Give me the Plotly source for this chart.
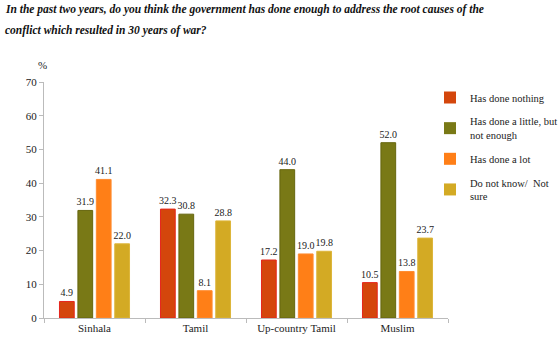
import plotly.graph_objects as go

categories = ["Sinhala", "Tamil", "Up-country Tamil", "Muslim"]
series_names = ["Has done nothing", "Has done a little, but<br>not enough", "Has done a lot", "Do not know/  Not<br>sure"]
nothing = [4.9, 32.3, 17.2, 10.5]
little = [31.9, 30.8, 44.0, 52.0]
a_lot = [41.1, 8.1, 19.0, 13.8]
dont_know = [22.0, 28.8, 19.8, 23.7]
y_ticks = [0, 10, 20, 30, 40, 50, 60, 70]

values = [nothing, little, a_lot, dont_know]
fills = ["#D4460C", "#797916", "#FF7F17", "#D3AA24"]
lines = ["#E5261C", "#66660E", "#FF8C30", "#DDB53A"]

serif = "Liberation Serif"
fig = go.Figure()
for i, (name, vals) in enumerate(zip(series_names, values)):
    fig.add_trace(go.Bar(
        x=categories, y=vals, name=name, showlegend=False,
        marker=dict(color=fills[i], line=dict(color=lines[i], width=1)),
        text=[f"{v:.1f}" for v in vals], textposition="outside",
        constraintext="none",
        textfont=dict(family=serif, size=10, color="#222"),
        cliponaxis=False,
    ))
for i, name in enumerate(series_names):
    fig.add_trace(go.Scatter(
        x=[None], y=[None], mode="markers", name=name, legendgroup=f"g{i}",
        marker=dict(symbol="square", size=6, color=fills[i]),
    ))

fig.update_layout(
    width=560, height=341,
    margin=dict(l=44, r=112, t=82, b=23, autoexpand=False),
    paper_bgcolor="white", plot_bgcolor="white",
    barmode="group", bargap=0.27, bargroupgap=0.2,
    font=dict(family=serif, size=11, color="#222"),
    showlegend=True,
    legend=dict(xref="container", yref="container", x=430/560, y=1 - 83/341,
                xanchor="left", yanchor="top",
                font=dict(family=serif, size=10.5, color="#222"),
                tracegroupgap=6, itemwidth=30, itemsizing="constant",
                bgcolor="rgba(0,0,0,0)"),
    xaxis=dict(showline=True, linecolor="#BBBBBB", linewidth=1, tickangle=0, automargin=False,
               ticks="outside", tickson="boundaries", ticklen=4, tickcolor="#BBBBBB",
               tickfont=dict(family=serif, size=11, color="#222")),
    yaxis=dict(range=[0, 70], tickvals=y_ticks, showgrid=False, zeroline=False, automargin=False,
               showline=True, linecolor="#BBBBBB", linewidth=1,
               ticks="outside", ticklen=4, tickcolor="#BBBBBB",
               tickfont=dict(family=serif, size=11, color="#222")),
    annotations=[
        dict(text="<b><i>In the past two years, do you think the government has done enough to address the root causes of the</i></b>",
             xref="paper", yref="paper", x=-41/404, y=1 + (82 - 10) / 236, xanchor="left", yanchor="middle",
             showarrow=False, font=dict(family="Liberation Serif", size=11.5, color="#111")),
        dict(text="<b><i>conflict which resulted in 30 years of war?</i></b>",
             xref="paper", yref="paper", x=-41/404, y=1 + (82 - 31) / 236, xanchor="left", yanchor="middle",
             showarrow=False, font=dict(family="Liberation Serif", size=11.5, color="#111")),
        dict(text="%", xref="paper", yref="paper", x=-2/404, y=1 + (82 - 65) / 236,
             xanchor="center", yanchor="middle", showarrow=False,
             font=dict(family=serif, size=11, color="#222")),
    ],
)

fig.write_html("out.html")
